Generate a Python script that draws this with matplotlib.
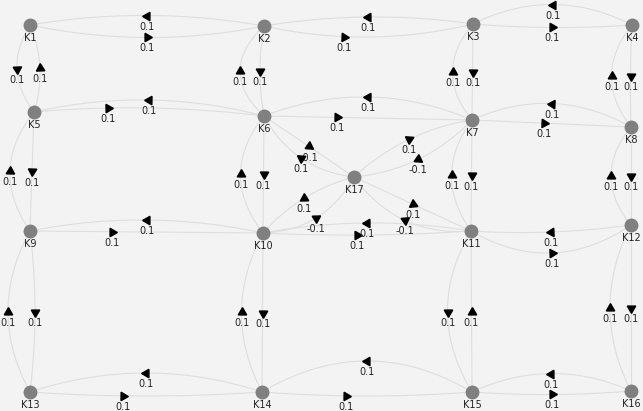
import numpy as np
import matplotlib
matplotlib.use("Agg")
import matplotlib.pyplot as plt

node_names = ["K1", "K2", "K3", "K4", "K5", "K6", "K7", "K8", "K17",
              "K9", "K10", "K11", "K12", "K13", "K14", "K15", "K16"]
node_x = [30, 264, 473, 632, 34, 264, 472, 631, 354, 30, 263, 471, 631, 30, 262, 472, 631]
node_y = [25, 26, 24, 25, 112, 116, 120, 127, 177, 231, 233, 231, 225, 392, 392, 392, 391]

edge_src = ["K1", "K2", "K2", "K3", "K3", "K4", "K5", "K6", "K6", "K7", "K7", "K8",
            "K9", "K10", "K10", "K11", "K11", "K12", "K13", "K14", "K14", "K15", "K15", "K16",
            "K1", "K5", "K2", "K6", "K3", "K7", "K4", "K8",
            "K5", "K9", "K6", "K10", "K7", "K11", "K8", "K12",
            "K9", "K13", "K10", "K14", "K11", "K15", "K12", "K16",
            "K6", "K17", "K7", "K17", "K10", "K17", "K11", "K17"]
edge_dst = ["K2", "K1", "K3", "K2", "K4", "K3", "K6", "K5", "K7", "K6", "K8", "K7",
            "K10", "K9", "K11", "K10", "K12", "K11", "K14", "K13", "K15", "K14", "K16", "K15",
            "K5", "K1", "K6", "K2", "K7", "K3", "K8", "K4",
            "K9", "K5", "K10", "K6", "K11", "K7", "K12", "K8",
            "K13", "K9", "K14", "K10", "K15", "K11", "K16", "K12",
            "K17", "K6", "K17", "K7", "K17", "K10", "K17", "K11"]
edge_w = ["0.1"] * 48 + ["-0.1", "0.1", "-0.1", "0.1", "-0.1", "0.1", "-0.1", "0.1"]
# bend of the curve (px, to the right of travel) and where the arrow sits
edge_bend = [12, 10, 12, 8, 3, 20, -6, 14, 0, 21, 0, 20,
             0, 12, 3, 9, 25, -4, 4, 19, 4, 31, 3, 18,
             15, 8, 4, -24, 0, -20, 1, -20,
             0, -22, 0, -23, 0, -20, 0, -20,
             -5, -22, 0, -21, 24, 0, 0, -21,
             0, -14, -12, -10, 15, 8, -18, 0]
edge_t = [0.5, 0.5, 0.38, 0.5, 0.5, 0.5, 0.32, 0.5, 0.35, 0.5, 0.45, 0.5,
          0.35, 0.5, 0.45, 0.5, 0.5, 0.5, 0.4, 0.5, 0.4, 0.5, 0.5, 0.5] + [0.5] * 32

pos = {n: np.array([x, y], float) for n, x, y in zip(node_names, node_x, node_y)}

fig = plt.figure(figsize=(6.43, 4.11), dpi=100)
fig.patch.set_facecolor("#f3f3f3")
ax = fig.add_axes([0, 0, 1, 1])
ax.set_facecolor("#f3f3f3")
ax.set_xlim(0, 643)
ax.set_ylim(411, 0)
ax.axis("off")

tt = np.linspace(0, 1, 60)
for s, d, w, b, t in zip(edge_src, edge_dst, edge_w, edge_bend, edge_t):
    p0, p2 = pos[s], pos[d]
    v = p2 - p0
    u = v / np.linalg.norm(v)
    nr = np.array([-u[1], u[0]])
    c = (p0 + p2) / 2 + 2 * b * nr
    curve = ((1 - tt)[:, None] ** 2 * p0 + 2 * (tt * (1 - tt))[:, None] * c
             + (tt ** 2)[:, None] * p2)
    ax.plot(curve[:, 0], curve[:, 1], color="#dedede", lw=0.8, zorder=1)
    pt = (1 - t) ** 2 * p0 + 2 * t * (1 - t) * c + t ** 2 * p2
    tan = 2 * (1 - t) * (c - p0) + 2 * t * (p2 - c)
    ang = np.degrees(np.arctan2(-tan[1], tan[0])) - 90
    ax.plot(pt[0], pt[1], marker=(3, 0, ang), color="black", ms=7, zorder=3)
    ax.text(pt[0], pt[1] + 11, w, ha="center", va="center", fontsize=7,
            color="#222222", zorder=3)

for n in node_names:
    x, y = pos[n]
    ax.plot(x, y, "o", color="#808080", ms=9, zorder=4)
    ax.text(x, y + 13, n, ha="center", va="center", fontsize=7, color="#222222", zorder=4)

fig.savefig("out.png", dpi=100, facecolor=fig.get_facecolor())
